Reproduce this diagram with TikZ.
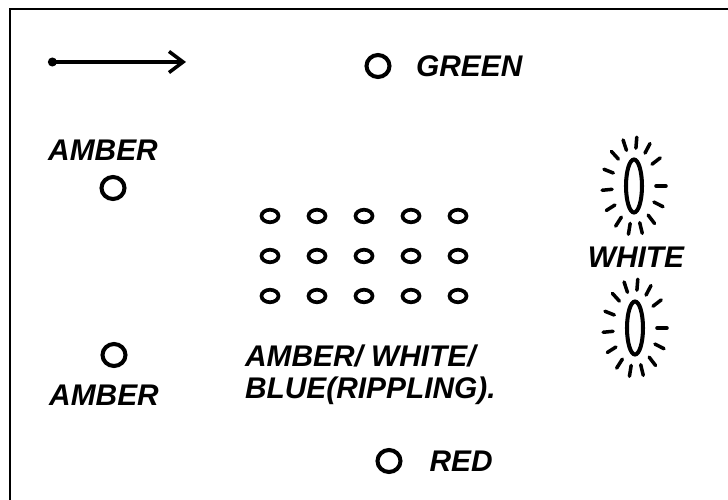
\documentclass[tikz,border=0pt]{standalone}
\usepackage{fontspec}
\setmainfont{Liberation Sans}
\usetikzlibrary{arrows.meta,positioning,shapes.geometric}

\begin{document}
\begin{tikzpicture}[x=0.02cm,y=-0.02cm,>=Latex,node distance=0.4cm]
  \tikzstyle{lamp}=[draw,ellipse,line width=2.3pt,inner sep=0pt,minimum width=0.46cm,minimum height=0.44cm]
  \tikzstyle{bulb}=[draw,ellipse,line width=2.1pt,inner sep=0pt,minimum width=0.34cm,minimum height=0.25cm]
  \tikzstyle{flood}=[draw,ellipse,line width=2.3pt,inner sep=0pt,minimum width=0.32cm,minimum height=1.06cm]
  \tikzstyle{ray}=[line width=2pt,line cap=round]
  \tikzstyle{lbl}=[inner sep=1pt,font=\fontsize{17}{18}\selectfont\bfseries\itshape,align=left]
  \useasboundingbox (0,0) rectangle (728,500);
  \draw[line width=1.6pt] (10,500) -- (10,9) -- (728,9);
  % direction of travel
  \coordinate (tail) at (48,62);
  \coordinate (head) at (186,62);
  \draw[line width=2pt,{Circle[length=5pt]}-{Straight Barb[length=8pt,width=12pt]}] (tail) -- (head);
  % single lamps
  \node[lamp] (green) at (378,66) {};
  \node[lbl,right=0.45cm of green] (greenlbl) {GREEN};
  \node[lamp] (amb1) at (113,188) {};
  \node[lbl,above=0.25cm of amb1,xshift=-0.2cm] (amb1lbl) {AMBER};
  \node[lamp] (amb2) at (114,355) {};
  \node[lbl,below=0.3cm of amb2,xshift=-0.2cm] (amb2lbl) {AMBER};
  \node[lamp] (red) at (389,461) {};
  \node[lbl,right=0.5cm of red] (redlbl) {RED};
  % rippling block
  \foreach \r in {1,2,3}
    \foreach \c in {1,...,5}
      \node[bulb] (g\r\c) at ({270+47*(\c-1)},{216+40*(\r-1)}) {};
  \node[lbl,anchor=north west] (ripple) at (243,343) {AMBER/ WHITE/\\BLUE(RIPPLING).};
  % white flood lamps
  \node[flood] (wtop) at (634,186) {};
  \node[flood] (wbot) at (635,328) {};
  \node[lbl] (whitelbl) at (636,257) {WHITE};
  \foreach \lamp in {wtop,wbot}
    \foreach \a in {0,25,...,335}
      \draw[ray] ([shift={(\a:22 and 38)}]\lamp.center) -- ([shift={(\a:32 and 49)}]\lamp.center);
\end{tikzpicture}
\end{document}
